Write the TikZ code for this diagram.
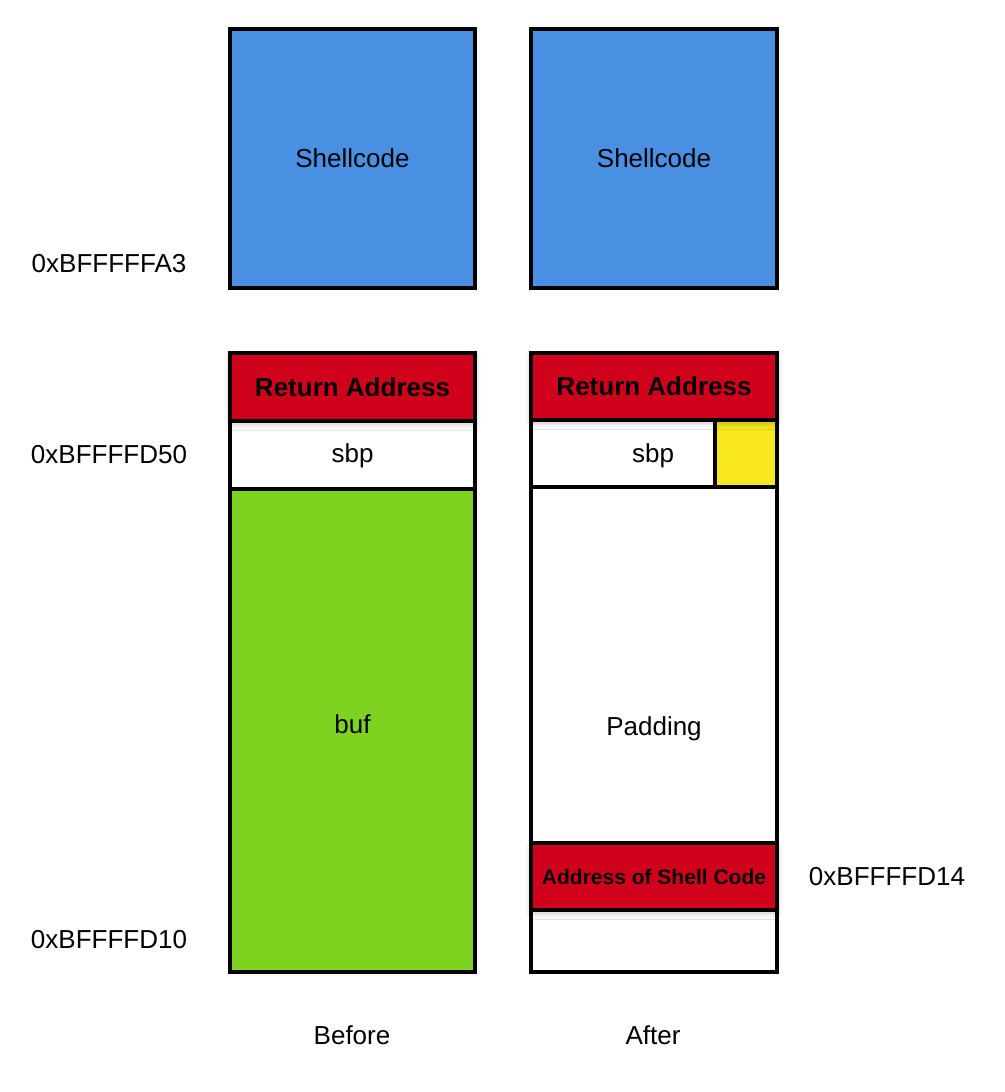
\documentclass[tikz,border=0pt]{standalone}
\usepackage{fontspec}
\setmainfont{Liberation Sans}
\usetikzlibrary{shadows.blur}
\definecolor{cblue}{HTML}{4A90E2}
\definecolor{cred}{HTML}{D0021B}
\definecolor{cgreen}{HTML}{7ED321}
\definecolor{cyel}{HTML}{F8E71C}
\tikzset{
  cell/.style={draw=black, line width=3.6pt, rectangle, inner sep=0pt, outer sep=0pt, font=\fontsize{26}{31}\selectfont},
  redcell/.style={cell, fill=cred, font=\fontsize{26}{31}\selectfont\bfseries,
     blur shadow={shadow xshift=0pt, shadow yshift=-3pt, shadow blur radius=6pt, shadow opacity=25}},
  lbl/.style={font=\fontsize{26}{31}\selectfont, inner sep=0pt}
}
\begin{document}
\begin{tikzpicture}[x=1pt,y=-1pt]
\useasboundingbox (0,0) rectangle (1004,1092);
% Before column
\node[cell, fill=cblue, minimum width=245pt, minimum height=259pt] (shL) at (352.5,158.5) {Shellcode};
\node[cell, fill=white, minimum width=245pt, minimum height=68pt] (sbpL) at (352.5,455) {};
\node[lbl] (sbpLtxt) at (352.5,456) {sbp};
\node[cell, fill=cgreen, minimum width=245pt, minimum height=483pt] (bufL) at (352.5,730.5) {};
\node[lbl] (buftxt) at (352.5,724) {buf};
\node[redcell, minimum width=245pt, minimum height=68pt] (raL) at (352.5,387) {Return Address};
% After column
\node[cell, fill=cblue, minimum width=246pt, minimum height=259pt] (shR) at (654,158.5) {Shellcode};
\node[cell, fill=white, minimum width=246pt, minimum height=67pt] (sbpR) at (654,453.5) {};
\node[lbl] (sbptxt) at (653,456) {sbp};
\node[cell, fill=cyel, minimum width=62pt, minimum height=67pt] (yel) at (746,453.5) {};
\node[cell, fill=white, minimum width=246pt, minimum height=485pt] (padR) at (654,729.5) {};
\node[lbl] (padtxt) at (654,729) {Padding};
\node[redcell, minimum width=246pt, minimum height=67pt] (raR) at (654,386.5) {Return Address};
\node[redcell, minimum width=246pt, minimum height=67pt, font=\fontsize{21}{25}\selectfont\bfseries] (asc) at (654,876.5) {Address of Shell Code};
% Address labels
\node[lbl] (a1) at (109,264) {0xBFFFFFA3};
\node[lbl] (a2) at (109,455) {0xBFFFFD50};
\node[lbl] (a3) at (109,940) {0xBFFFFD10};
\node[lbl] (a4) at (887,877) {0xBFFFFD14};
\node[lbl] (before) at (352,1035) {Before};
\node[lbl] (after) at (653,1035) {After};
\end{tikzpicture}
\end{document}
